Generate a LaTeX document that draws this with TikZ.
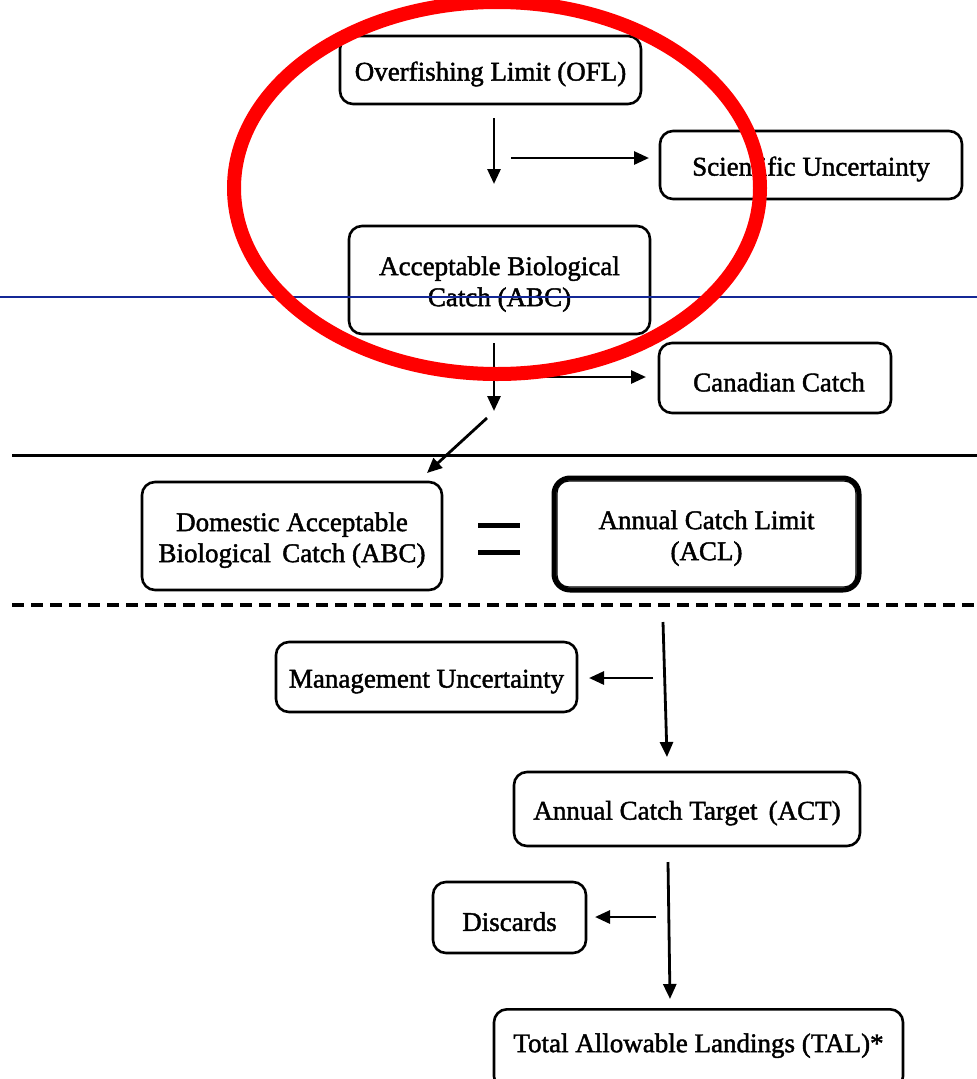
\documentclass[tikz,border=0pt]{standalone}
\usepackage{fontspec}
\setmainfont{Liberation Serif}[FakeBold=1.6]
\usetikzlibrary{arrows.meta}
\definecolor{ringred}{RGB}{255,0,0}
\definecolor{rulblue}{RGB}{20,40,150}
\newcommand{\tstrut}{\rule{0pt}{27pt}}
\begin{document}
\begin{tikzpicture}[x=1pt,y=-1pt,
  box/.style={draw,line width=2.6pt,rounded corners=13pt,align=center,inner sep=0pt,
    font=\fontsize{27}{31}\selectfont},
  arr/.style={line width=2.8pt,-{Triangle[length=15pt,width=13pt]}}]
\useasboundingbox (0,0) rectangle (977,1079);
\clip (0,0) rectangle (977,1079);
\fill[white] (0,0) rectangle (977,1079);
% boxes
\node[box,minimum width=301pt,minimum height=68pt] (ofl) at (490.5,70) {\tstrut Overfishing Limit (OFL)};
\node[box,minimum width=302pt,minimum height=68pt] (sci) at (811,165) {\tstrut Scientific Uncertainty};
\node[box,minimum width=301pt,minimum height=108pt] (abc) at (499.5,280) {\tstrut Acceptable Biological\\Catch (ABC)};
\node[box,minimum width=232pt,minimum height=70pt] (can) at (775,378) {\tstrut\hspace*{8pt}Canadian Catch};
\node[box,minimum width=300pt,minimum height=108pt] (dabc) at (292,536) {\tstrut Domestic Acceptable\\Biological\, Catch (ABC)};
\node[box,minimum width=305pt,minimum height=112pt,line width=5pt,rounded corners=16pt] (acl) at (706.5,534) {\tstrut Annual Catch Limit\\(ACL)};
\draw[line width=1.2pt,rounded corners=12pt] ([shift={(5.5pt,-5.5pt)}]acl.north west) rectangle ([shift={(-5.5pt,5.5pt)}]acl.south east);
\node[box,minimum width=301pt,minimum height=70pt] (mgmt) at (426.5,677) {\tstrut Management Uncertainty};
\node[box,minimum width=346pt,minimum height=74pt] (act) at (687,809) {\tstrut Annual Catch Target\, (ACT)};
\node[box,minimum width=153pt,minimum height=71pt] (disc) at (509.5,917.5) {\tstrut Discards};
\node[box,minimum width=409pt,minimum height=80pt,anchor=north] (tal) at (698.5,1008) {\raisebox{13pt}{Total Allowable Landings (TAL)*}};
% equals sign
\node[minimum width=42pt,minimum height=22pt,inner sep=0pt] (eq) at (499,539) {};
\fill (eq.north west) rectangle ([yshift=5pt]eq.north east);
\fill ([yshift=-5pt]eq.south west) rectangle (eq.south east);
% connector coordinates
\coordinate (a1s) at (494,118); \coordinate (a1e) at (494,184);
\coordinate (a2s) at (511,158); \coordinate (a2e) at (649,158);
\coordinate (a3s) at (494,343); \coordinate (a3e) at (494,411);
\coordinate (a4s) at (511,377); \coordinate (a4e) at (646,377);
\coordinate (a5s) at (487,418); \coordinate (a5e) at (427,473);
\coordinate (a6s) at (663,622); \coordinate (a6e) at (667,757);
\coordinate (a7s) at (653,678); \coordinate (a7e) at (589,678);
\coordinate (a8s) at (668,862); \coordinate (a8e) at (670,999);
\coordinate (a9s) at (656,917); \coordinate (a9e) at (595,917);
\foreach \i in {1,...,9} {\draw[arr] (a\i s) -- (a\i e);}
% rules
\coordinate (r1l) at (12,455); \coordinate (r1r) at (977,455);
\coordinate (r2l) at (12,605); \coordinate (r2r) at (977,605);
\coordinate (r3l) at (0,297); \coordinate (r3r) at (977,297);
\draw[line width=3pt] (r1l) -- (r1r);
\draw[line width=4pt,dash pattern=on 12pt off 7pt] (r2l) -- (r2r);
\draw[line width=1.3pt,rulblue] (r3l) -- (r3r);
% red ring
\coordinate (ringc) at (497,188);
\draw[ringred,line width=14pt] (ringc) ellipse [x radius=263pt,y radius=186pt];
\end{tikzpicture}
\end{document}
